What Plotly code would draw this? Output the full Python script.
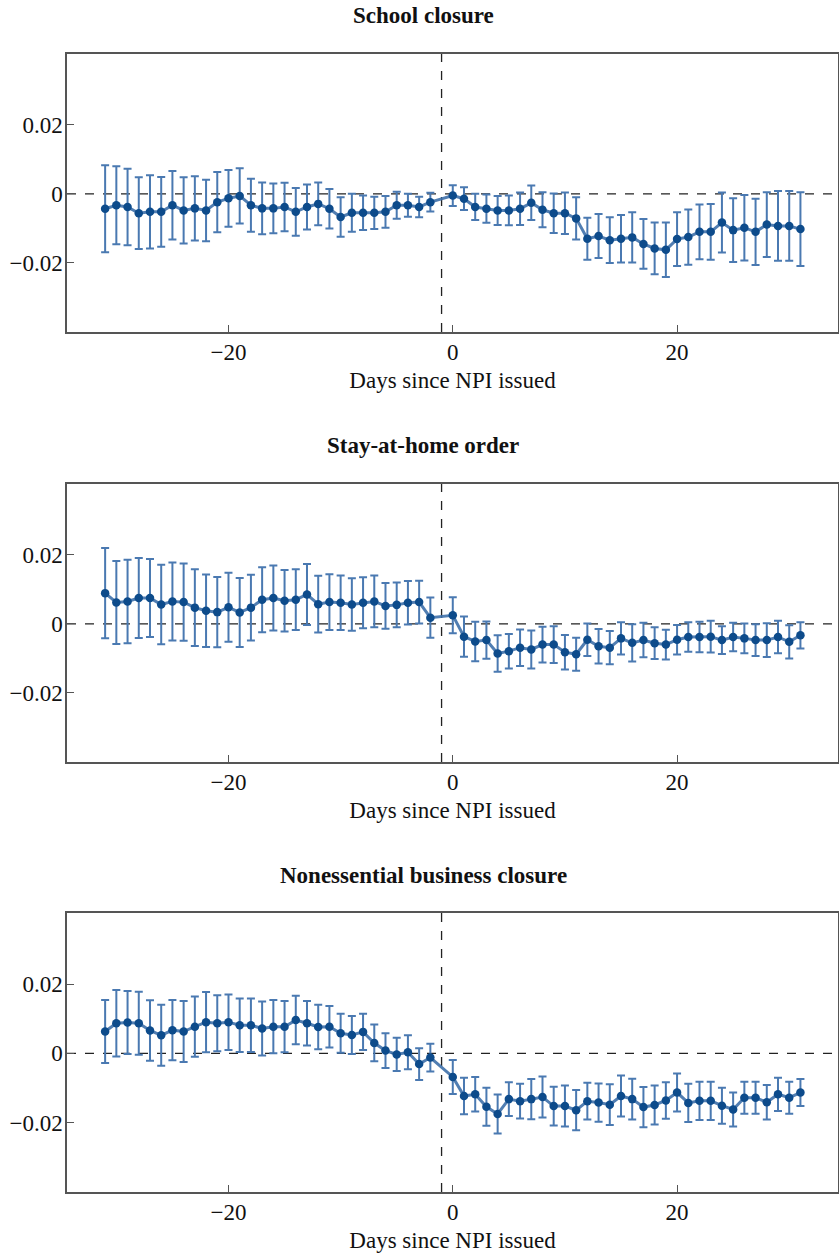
import plotly.graph_objects as go
from plotly.subplots import make_subplots

# Event days (day -1 is the reference period and is omitted)
days = [-31, -30, -29, -28, -27, -26, -25, -24, -23, -22, -21, -20, -19, -18, -17, -16,
        -15, -14, -13, -12, -11, -10, -9, -8, -7, -6, -5, -4, -3, -2,
        0, 1, 2, 3, 4, 5, 6, 7, 8, 9, 10, 11, 12, 13, 14, 15, 16, 17, 18, 19, 20,
        21, 22, 23, 24, 25, 26, 27, 28, 29, 30, 31]

panel_titles = ["School closure", "Stay-at-home order", "Nonessential business closure"]
x_title = "Days since NPI issued"
x_tickvals = [-20, 0, 20]
x_ticktext = ["\u221220", "0", "20"]
y_tickvals = [0.02, 0, -0.02]
y_ticktext = ["0.02", "0", "\u22120.02"]

school_est = [-0.0043, -0.0033, -0.0038, -0.0056, -0.0052, -0.0052, -0.0033, -0.0048, -0.0042, -0.0048,
              -0.0024, -0.0013, -0.0006, -0.0033, -0.0042, -0.0042, -0.0038, -0.0052, -0.0038, -0.0029,
              -0.0043, -0.0067, -0.0055, -0.0055, -0.0055, -0.0052, -0.0033, -0.0033, -0.0038, -0.0024,
              -0.0005, -0.0014, -0.0038, -0.0043, -0.0048, -0.0048, -0.0043, -0.0026, -0.0046, -0.0056,
              -0.0056, -0.0071, -0.0130, -0.0122, -0.0134, -0.0130, -0.0126, -0.0145, -0.0158, -0.0162,
              -0.0131, -0.0125, -0.0110, -0.0110, -0.0083, -0.0105, -0.0098, -0.0110, -0.0089, -0.0093,
              -0.0093, -0.0102]
school_ci = [0.0126, 0.0113, 0.0111, 0.0104, 0.0106, 0.0101, 0.0099, 0.0096, 0.0093, 0.0089,
             0.0087, 0.0082, 0.0080, 0.0077, 0.0075, 0.0072, 0.0070, 0.0069, 0.0065, 0.0062,
             0.0057, 0.0057, 0.0055, 0.0050, 0.0047, 0.0046, 0.0039, 0.0033, 0.0030, 0.0027,
             0.0030, 0.0033, 0.0038, 0.0041, 0.0042, 0.0043, 0.0047, 0.0050, 0.0051, 0.0057,
             0.0060, 0.0061, 0.0061, 0.0064, 0.0066, 0.0069, 0.0073, 0.0072, 0.0075, 0.0079,
             0.0078, 0.0080, 0.0079, 0.0081, 0.0087, 0.0092, 0.0095, 0.0096, 0.0094, 0.0101,
             0.0101, 0.0107]

stay_est = [0.0089, 0.0062, 0.0065, 0.0075, 0.0075, 0.0056, 0.0065, 0.0063, 0.0047, 0.0038,
            0.0034, 0.0048, 0.0033, 0.0047, 0.0070, 0.0075, 0.0067, 0.0070, 0.0085, 0.0057,
            0.0063, 0.0061, 0.0056, 0.0061, 0.0065, 0.0052, 0.0055, 0.0061, 0.0063, 0.0018,
            0.0025, -0.0037, -0.0051, -0.0047, -0.0086, -0.0079, -0.0069, -0.0074, -0.0060, -0.0060,
            -0.0082, -0.0088, -0.0046, -0.0065, -0.0069, -0.0042, -0.0055, -0.0047, -0.0056, -0.0060,
            -0.0046, -0.0038, -0.0038, -0.0037, -0.0047, -0.0038, -0.0042, -0.0047, -0.0047, -0.0038,
            -0.0052, -0.0033]
stay_ci = [0.0131, 0.0120, 0.0121, 0.0116, 0.0113, 0.0115, 0.0113, 0.0112, 0.0111, 0.0105,
           0.0102, 0.0100, 0.0100, 0.0095, 0.0094, 0.0094, 0.0089, 0.0088, 0.0088, 0.0082,
           0.0081, 0.0079, 0.0076, 0.0074, 0.0075, 0.0066, 0.0065, 0.0063, 0.0062, 0.0058,
           0.0052, 0.0058, 0.0057, 0.0054, 0.0053, 0.0050, 0.0053, 0.0055, 0.0052, 0.0053,
           0.0050, 0.0048, 0.0047, 0.0050, 0.0048, 0.0047, 0.0054, 0.0050, 0.0046, 0.0043,
           0.0043, 0.0043, 0.0044, 0.0046, 0.0040, 0.0041, 0.0043, 0.0046, 0.0049, 0.0047,
           0.0048, 0.0038]

biz_est = [0.0063, 0.0087, 0.0089, 0.0087, 0.0066, 0.0052, 0.0067, 0.0063, 0.0077, 0.0090,
           0.0087, 0.0090, 0.0081, 0.0081, 0.0072, 0.0077, 0.0077, 0.0096, 0.0087, 0.0076,
           0.0077, 0.0058, 0.0053, 0.0062, 0.0030, 0.0008, -0.0003, 0.0003, -0.0031, -0.0012,
           -0.0068, -0.0123, -0.0118, -0.0154, -0.0175, -0.0132, -0.0138, -0.0132, -0.0126, -0.0152,
           -0.0152, -0.0164, -0.0138, -0.0142, -0.0148, -0.0123, -0.0132, -0.0155, -0.0149, -0.0136,
           -0.0113, -0.0143, -0.0137, -0.0137, -0.0151, -0.0162, -0.0128, -0.0128, -0.0141, -0.0118,
           -0.0128, -0.0113]
biz_ci = [0.0091, 0.0096, 0.0091, 0.0091, 0.0087, 0.0088, 0.0087, 0.0088, 0.0087, 0.0087,
          0.0081, 0.0080, 0.0077, 0.0077, 0.0078, 0.0077, 0.0074, 0.0070, 0.0064, 0.0064,
          0.0060, 0.0056, 0.0055, 0.0052, 0.0053, 0.0050, 0.0048, 0.0049, 0.0046, 0.0040,
          0.0049, 0.0053, 0.0050, 0.0055, 0.0056, 0.0049, 0.0050, 0.0058, 0.0059, 0.0056,
          0.0059, 0.0058, 0.0053, 0.0055, 0.0059, 0.0059, 0.0059, 0.0058, 0.0056, 0.0053,
          0.0055, 0.0055, 0.0055, 0.0055, 0.0052, 0.0049, 0.0046, 0.0046, 0.0050, 0.0048,
          0.0046, 0.0039]

ests = [school_est, stay_est, biz_est]
cis = [school_ci, stay_ci, biz_ci]

W, H = 839, 1256
# panel boxes in pixels (top, bottom)
boxes = [(54, 332), (484, 762), (913, 1192)]
LEFT, RIGHT = 67, 838
TITLE_X = 423

FONT = "Liberation Serif, Times New Roman, serif"
FSIZE = 23
BAR_COLOR = "#4a79b1"
LINE_COLOR = "rgba(62,112,170,0.9)"
MARKER_COLOR = "#0d4b8b"
AXIS_COLOR = "#555555"

fig = make_subplots(rows=3, cols=1)

for i in range(3):
    fig.add_trace(go.Scatter(
        x=days, y=ests[i], mode="lines+markers",
        line=dict(color=LINE_COLOR, width=3),
        marker=dict(color=MARKER_COLOR, size=8.5),
        error_y=dict(type="data", array=cis[i], visible=True,
                     color=BAR_COLOR, thickness=2, width=4),
        showlegend=False, hoverinfo="x+y",
    ), row=i + 1, col=1)

layout = dict(
    width=W, height=H,
    margin=dict(l=0, r=0, t=0, b=0, autoexpand=False),
    paper_bgcolor="white", plot_bgcolor="white",
    font=dict(family=FONT, size=FSIZE, color="#111111"),
    showlegend=False,
)

shapes = []
annotations = []
for i, (top, bot) in enumerate(boxes):
    sfx = "" if i == 0 else str(i + 1)
    ydom = [1 - bot / H, 1 - top / H]
    layout["xaxis" + sfx] = dict(
        domain=[LEFT / W, RIGHT / W], range=[-34.4, 34.35],
        tickvals=x_tickvals, ticktext=x_ticktext,
        ticks="inside", ticklen=7, tickwidth=1, tickcolor=AXIS_COLOR,
        showline=True, linecolor=AXIS_COLOR, linewidth=1.5, mirror=True,
        showgrid=False, zeroline=False, ticklabelstandoff=-1, automargin=False,
        title=dict(text=x_title, standoff=8, font=dict(family=FONT, size=FSIZE)),
        anchor="y" + sfx,
    )
    layout["yaxis" + sfx] = dict(
        domain=ydom, range=[-0.04, 0.0405],
        tickvals=y_tickvals, ticktext=y_ticktext,
        ticks="inside", ticklen=7, tickwidth=1, tickcolor=AXIS_COLOR,
        showline=True, linecolor=AXIS_COLOR, linewidth=1.5, mirror=True,
        showgrid=False, zeroline=False, ticklabelstandoff=-2, automargin=False,
        anchor="x" + sfx,
    )
    xr = "x" + sfx
    yr = "y" + sfx
    shapes.append(dict(type="line", xref=xr + " domain", yref=yr, x0=0, x1=1, y0=0, y1=0,
                       line=dict(color="#222222", width=1.3, dash="dash"), layer="below"))
    shapes.append(dict(type="line", xref=xr, yref=yr + " domain", x0=-1, x1=-1, y0=0, y1=1,
                       line=dict(color="#222222", width=1.3, dash="dash"), layer="below"))
    annotations.append(dict(text="<b>" + panel_titles[i] + "</b>", xref="paper", yref="paper",
                            x=TITLE_X / W, y=1 - (top - 38) / H,
                            xanchor="center", yanchor="middle", showarrow=False,
                            font=dict(family=FONT, size=FSIZE, color="#111111")))

layout["shapes"] = shapes
layout["annotations"] = annotations
fig.update_layout(**layout)

fig.write_html("out.html", config={"displayModeBar": False},
               post_script="document.body.style.margin='0px';document.body.style.overflow='hidden';")
